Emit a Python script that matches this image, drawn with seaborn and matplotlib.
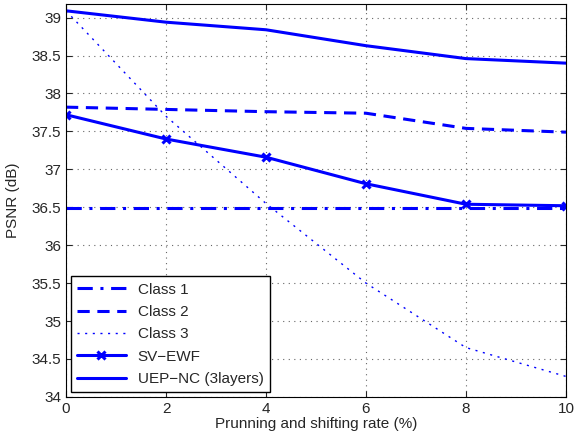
import seaborn as sns
import matplotlib.pyplot as plt
import pandas as pd

# values
rate = [0, 2, 4, 6, 8, 10]
class1 = [36.49, 36.49, 36.49, 36.49, 36.49, 36.49]
class2 = [37.82, 37.79, 37.76, 37.74, 37.54, 37.49]
class3 = [39.09, 37.70, 36.55, 35.50, 34.65, 34.27]
sv_ewf = [37.72, 37.40, 37.16, 36.81, 36.54, 36.52]
uep_nc = [39.09, 38.94, 38.84, 38.63, 38.46, 38.40]

sns.set_style("ticks")
plt.rcParams['font.family'] = ['Liberation Sans', 'DejaVu Sans']

fig = plt.figure(figsize=(5.74, 4.42), dpi=100)
ax = fig.add_axes([0.115, 0.102, 0.871, 0.889])

blue = '#0000ff'
sns.lineplot(x=rate, y=class1, ax=ax, color=blue, lw=2.2, linestyle=(0, (5, 2.5, 1, 2.5)), label='Class 1')
sns.lineplot(x=rate, y=class2, ax=ax, color=blue, lw=2.2, linestyle=(0, (4, 2.5)), label='Class 2')
sns.lineplot(x=rate, y=class3, ax=ax, color=blue, lw=1, linestyle=(0, (1.5, 4)), label='Class 3')
sns.lineplot(x=rate, y=sv_ewf, ax=ax, color=blue, lw=2.2, marker='x', markersize=6, markeredgewidth=2.2,
             markeredgecolor=blue, label='SV\u2212EWF')
sns.lineplot(x=rate, y=uep_nc, ax=ax, color=blue, lw=2.2, label='UEP\u2212NC (3layers)')

ax.set_xlim(0, 10)
ax.set_ylim(34, 39.18)
ax.set_xticks([0, 2, 4, 6, 8, 10])
ax.set_yticks([34, 34.5, 35, 35.5, 36, 36.5, 37, 37.5, 38, 38.5, 39])
ax.set_yticklabels(['34', '34.5', '35', '35.5', '36', '36.5', '37', '37.5', '38', '38.5', '39'])
ax.grid(True, color='#666666', linestyle=(0, (1, 4)), lw=0.8)
ax.tick_params(direction='in', labelsize=11, length=4, top=True, right=True)
for s in ax.spines.values():
    s.set_linewidth(0.8)
    s.set_color('black')

ax.set_xlabel('Prunning and shifting rate (%)', fontsize=11, labelpad=1)
ax.set_ylabel('PSNR (dB)', fontsize=11, labelpad=8)

leg = ax.legend(loc='lower left', fontsize=11, fancybox=False, framealpha=1, edgecolor='black',
                handlelength=3.2, borderaxespad=0.3, labelspacing=0.55)
leg.get_frame().set_linewidth(1.0)

fig.savefig('out.png', dpi=100)
